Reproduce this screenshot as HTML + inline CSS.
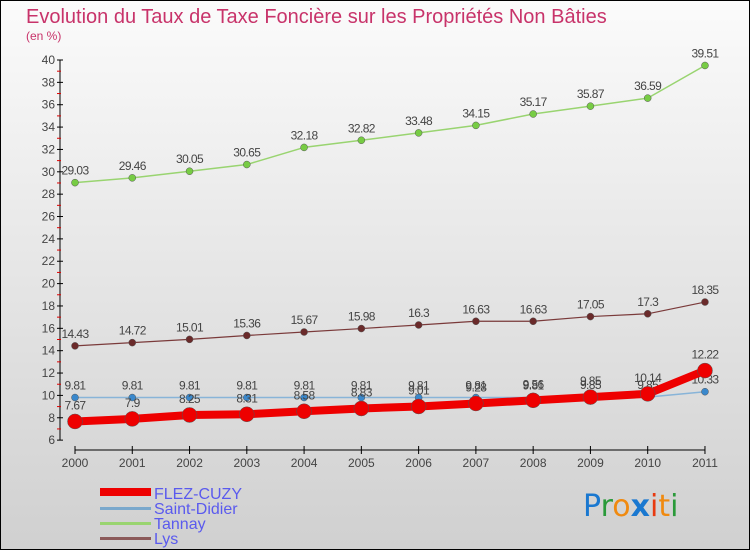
<!DOCTYPE html>
<html><head><meta charset="utf-8"><style>
body{margin:0;width:750px;height:550px;overflow:hidden;font-family:"Liberation Sans",sans-serif}
</style></head><body>
<svg id="chart" width="750" height="550" xmlns="http://www.w3.org/2000/svg">
<defs><linearGradient id="bg" x1="0" y1="0" x2="0" y2="1"><stop offset="0" stop-color="#fbfbfb"/><stop offset="1" stop-color="#d0d0d0"/></linearGradient></defs>
<rect x="0.5" y="0.5" width="749" height="549" fill="url(#bg)" stroke="#000"/>
<text x="26" y="23" font-size="20" fill="#c8336a">Evolution du Taux de Taxe Foncière sur les Propriétés Non Bâties</text>
<text x="26" y="40" font-size="12" fill="#c8336a">(en %)</text>
<g id="axes"></g><g id="series"></g>
<g font-size="16" fill="#5a5aee">
<rect x="100" y="488" width="51" height="8" fill="#e00"/>
<text x="154" y="499">FLEZ-CUZY</text>
<rect x="100" y="507" width="51" height="3" fill="#7aa8cc"/>
<text x="154" y="514">Saint-Didier</text>
<rect x="100" y="522" width="51" height="3" fill="#99d470"/>
<text x="154" y="529">Tannay</text>
<rect x="100" y="537" width="51" height="3" fill="#8b5a5a"/>
<text x="154" y="544">Lys</text>
</g>
<g font-size="30" font-family="'DejaVu Sans',sans-serif">
<text x="583" y="516"><tspan fill="#1a78d0">P</tspan><tspan fill="#2a9a3a">r</tspan><tspan fill="#f08a10">o</tspan><tspan fill="#1a78d0" font-weight="bold">x</tspan><tspan fill="#e83a10">i</tspan><tspan fill="#f08a10">t</tspan><tspan fill="#2a9a3a">i</tspan></text>
</g>
</svg>
<script>
const years=["2000","2001","2002","2003","2004","2005","2006","2007","2008","2009","2010","2011"];
const yTicks=[6,8,10,12,14,16,18,20,22,24,26,28,30,32,34,36,38,40];
const tannay=[29.03,29.46,30.05,30.65,32.18,32.82,33.48,34.15,35.17,35.87,36.59,39.51];
const lys=[14.43,14.72,15.01,15.36,15.67,15.98,16.3,16.63,16.63,17.05,17.3,18.35];
const saintDidier=[9.81,9.81,9.81,9.81,9.81,9.81,9.81,9.81,9.81,9.85,9.85,10.33];
const flez=[7.67,7.9,8.25,8.31,8.58,8.83,9.01,9.28,9.56,9.85,10.14,12.22];
const NS="http://www.w3.org/2000/svg";
const X=i=>75+i*57.27, Y=v=>60+(40-v)*11.18;
function mk(t,a,p){const e=document.createElementNS(NS,t);for(const k in a)e.setAttribute(k,a[k]);p.appendChild(e);return e;}
const ax=document.getElementById('axes');
let l=mk('line',{x1:60,y1:60,x2:60,y2:440,stroke:'#000'},ax);


yTicks.forEach(v=>{
  mk('line',{x1:57,y1:Y(v),x2:63,y2:Y(v),stroke:'#000'},ax);
  if(v<40) mk('line',{x1:57,y1:Y(v+1),x2:61,y2:Y(v+1),stroke:'#d00'},ax);
  const t=mk('text',{x:55,y:Y(v)+4,'font-size':12,fill:'#444','text-anchor':'end'},ax);t.textContent=v;
  
  
});
l=mk('line',{x1:75,y1:450,x2:705,y2:450,stroke:'#000'},ax);


years.forEach((y,i)=>{
  mk('line',{x1:X(i),y1:446,x2:X(i),y2:454,stroke:'#000'},ax);
  const t=mk('text',{x:X(i),y:467,'font-size':12,fill:'#444','text-anchor':'middle'},ax);t.textContent=y;
  
  
});
const sg=document.getElementById('series');
function series(name,vals,color,w,r,dot,lo){
  const g=mk('g',{},sg);
  
  
  const p=mk('polyline',{points:vals.map((v,i)=>X(i)+','+Y(v)).join(' '),fill:'none',stroke:color,'stroke-width':w,'stroke-linejoin':'round'},g);
  
  
  vals.forEach((v,i)=>{
    const c=mk('circle',{cx:X(i),cy:Y(v),r:r,fill:dot,stroke:'#555','stroke-width':0.5},g);
    
    
    const t=mk('text',{x:X(i),y:Y(v)-lo,'font-size':12,fill:'#444','text-anchor':'middle','letter-spacing':'-0.6'},g);
    t.textContent=v;
    
    
  });
}
series('tannay',tannay,'#99d470',1.5,3.5,'#77cc44',8);
series('lys',lys,'#7a3a3a',1.2,3.5,'#6a2a2a',8);
series('saint-didier',saintDidier,'#88b4d8',1.5,3.5,'#3a88cc',8);
series('flez-cuzy',flez,'#ee0000',8,7.5,'#ee0000',12);
</script>
</body></html>
